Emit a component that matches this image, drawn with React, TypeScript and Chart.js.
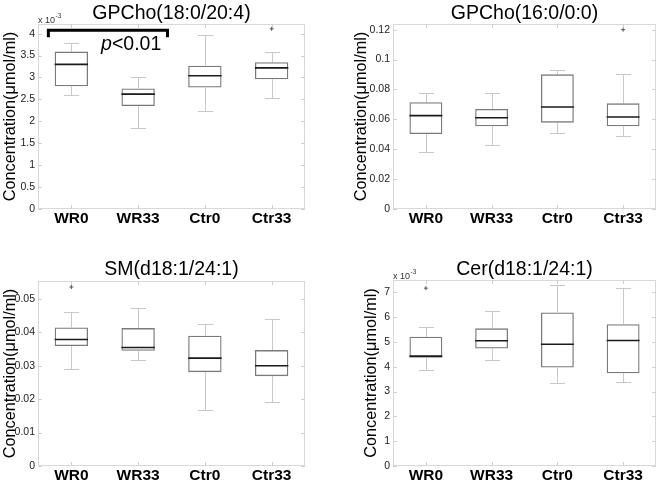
import React, { useEffect, useRef } from "react";
import { Chart, registerables } from "chart.js";
Chart.register(...registerables);

const FONT = "'Liberation Sans', Arial, Helvetica, sans-serif";

const categories = ["WR0", "WR33", "Ctr0", "Ctr33"];

// Panel 1: GPCho(18:0/20:4)  (values in x10^-3 µmol/ml)
const p1Title = "GPCho(18:0/20:4)";
const p1Min = [2.59, 1.84, 2.23, 2.53];
const p1Q1 = [2.8, 2.35, 2.77, 2.96];
const p1Med = [3.3, 2.62, 3.04, 3.22];
const p1Q3 = [3.59, 2.75, 3.27, 3.35];
const p1Max = [3.78, 3.0, 3.98, 3.59];
const p1Out = [null, null, null, 4.11];
const p1Ticks = { max: 4.22, step: 0.5, last: 4 };

// Panel 2: GPCho(16:0/0:0)  (µmol/ml)
const p2Title = "GPCho(16:0/0:0)";
const p2Min = [0.0381, 0.0428, 0.0509, 0.0491];
const p2Q1 = [0.0502, 0.0553, 0.0578, 0.0553];
const p2Med = [0.0625, 0.0611, 0.0683, 0.0616];
const p2Q3 = [0.0714, 0.0669, 0.0901, 0.0707];
const p2Max = [0.0776, 0.0774, 0.0928, 0.0901];
const p2Out = [null, null, null, 0.12];
const p2Ticks = { max: 0.1238, step: 0.02, last: 0.12 };

// Panel 3: SM(d18:1/24:1)  (µmol/ml)
const p3Title = "SM(d18:1/24:1)";
const p3Min = [0.029, 0.0317, 0.0169, 0.0191];
const p3Q1 = [0.0359, 0.0345, 0.0281, 0.0269];
const p3Med = [0.0379, 0.0355, 0.0323, 0.03];
const p3Q3 = [0.0415, 0.0413, 0.039, 0.0347];
const p3Max = [0.0462, 0.0473, 0.0425, 0.044];
const p3Out = [0.0536, null, null, null];
const p3Ticks = { max: 0.0554, step: 0.01, last: 0.05 };

// Panel 4: Cer(d18:1/24:1)  (values in x10^-3 µmol/ml)
const p4Title = "Cer(d18:1/24:1)";
const p4Min = [3.86, 4.27, 3.34, 3.38];
const p4Q1 = [4.36, 4.74, 3.97, 3.74];
const p4Med = [4.43, 5.05, 4.91, 5.06];
const p4Q3 = [5.21, 5.55, 6.19, 5.72];
const p4Max = [5.59, 6.23, 7.29, 7.17];
const p4Out = [7.17, null, null, null];
const p4Ticks = { max: 7.5, step: 1, last: 7 };

// significance annotation (panel 1)
const sigText = ["p", "<0.01"];
const sigBracketTop = 4.08;
const sigBracketLeg = 3.92;
const sigTextBase = 3.63;

const yTitle = "Concentration(\u03bcmol/ml)";

type Panel = {
  title: string;
  min: number[]; q1: number[]; med: number[]; q3: number[]; max: number[];
  out: (number | null)[];
  ticks: { max: number; step: number; last: number };
  exponent: boolean;
  sig: boolean;
  box: { left: number; top: number; w: number; h: number };
  yWidth: number; padRight: number; padTop: number; xHeight: number;
  yTitlePad: number; titleBase: number;
};

const panels: Panel[] = [
  { title: p1Title, min: p1Min, q1: p1Q1, med: p1Med, q3: p1Q3, max: p1Max, out: p1Out, ticks: p1Ticks,
    exponent: true, sig: true, box: { left: 0, top: 0, w: 330, h: 242 },
    yWidth: 38, padRight: 25, padTop: 24, xHeight: 33, yTitlePad: 0.3, titleBase: 18.7 },
  { title: p2Title, min: p2Min, q1: p2Q1, med: p2Med, q3: p2Q3, max: p2Max, out: p2Out, ticks: p2Ticks,
    exponent: false, sig: false, box: { left: 330, top: 0, w: 331, h: 242 },
    yWidth: 63, padRight: 1, padTop: 24, xHeight: 33, yTitlePad: 21.5, titleBase: 18.9 },
  { title: p3Title, min: p3Min, q1: p3Q1, med: p3Med, q3: p3Q3, max: p3Max, out: p3Out, ticks: p3Ticks,
    exponent: false, sig: false, box: { left: 0, top: 242, w: 330, h: 242 },
    yWidth: 38, padRight: 25, padTop: 39, xHeight: 18, yTitlePad: 0.3, titleBase: 33 },
  { title: p4Title, min: p4Min, q1: p4Q1, med: p4Med, q3: p4Q3, max: p4Max, out: p4Out, ticks: p4Ticks,
    exponent: true, sig: false, box: { left: 330, top: 242, w: 331, h: 242 },
    yWidth: 63, padRight: 1, padTop: 38, xHeight: 18, yTitlePad: 31.9, titleBase: 33 },
];

function fmt(v: number) {
  return String(Number(v.toFixed(4)));
}

function makePlugin(p: Panel) {
  return {
    id: "boxExtras",
    beforeDatasetsDraw(chart: any) {
      const ctx = chart.ctx;
      const ca = chart.chartArea;
      const xs = chart.scales.x;
      const ys = chart.scales.y;
      ctx.save();
      // frame
      ctx.strokeStyle = "#d9d9d9";
      ctx.lineWidth = 1;
      ctx.strokeRect(Math.round(ca.left) + 0.5, Math.round(ca.top) + 0.5,
        Math.round(ca.right - ca.left) - 1, Math.round(ca.bottom - ca.top) - 1);
      // inward ticks
      ctx.strokeStyle = "#cfcfcf";
      ctx.beginPath();
      ys.ticks.forEach((t: any) => {
        const y = Math.round(ys.getPixelForValue(t.value)) + 0.5;
        ctx.moveTo(ca.left, y); ctx.lineTo(ca.left + 4, y);
        ctx.moveTo(ca.right - 4, y); ctx.lineTo(ca.right, y);
      });
      categories.forEach((_, i) => {
        const x = Math.round(xs.getPixelForValue(i)) + 0.5;
        ctx.moveTo(x, ca.bottom); ctx.lineTo(x, ca.bottom - 4);
        ctx.moveTo(x, ca.top); ctx.lineTo(x, ca.top + 4);
      });
      ctx.stroke();
      // whiskers
      const meta = chart.getDatasetMeta(0);
      ctx.strokeStyle = "#c8c8c8";
      ctx.lineWidth = 1;
      ctx.beginPath();
      categories.forEach((_, i) => {
        const el = meta.data[i];
        const x = Math.round(el.x) + 0.5;
        const cap = el.width * 0.23;
        const yMin = Math.round(ys.getPixelForValue(p.min[i])) + 0.5;
        const yQ1 = ys.getPixelForValue(p.q1[i]);
        const yQ3 = ys.getPixelForValue(p.q3[i]);
        const yMax = Math.round(ys.getPixelForValue(p.max[i])) + 0.5;
        ctx.moveTo(x, yQ3); ctx.lineTo(x, yMax);
        ctx.moveTo(x, yQ1); ctx.lineTo(x, yMin);
        ctx.moveTo(x - cap, yMax); ctx.lineTo(x + cap, yMax);
        ctx.moveTo(x - cap, yMin); ctx.lineTo(x + cap, yMin);
      });
      ctx.stroke();
      ctx.restore();
    },
    afterDatasetsDraw(chart: any) {
      const ctx = chart.ctx;
      const ca = chart.chartArea;
      const xs = chart.scales.x;
      const ys = chart.scales.y;
      const meta = chart.getDatasetMeta(0);
      ctx.save();
      // medians
      ctx.strokeStyle = "#1a1a1a";
      ctx.lineWidth = 1.6;
      ctx.beginPath();
      categories.forEach((_, i) => {
        const el = meta.data[i];
        const y = ys.getPixelForValue(p.med[i]);
        ctx.moveTo(el.x - el.width / 2, y); ctx.lineTo(el.x + el.width / 2, y);
      });
      ctx.stroke();
      // title
      ctx.fillStyle = "#000";
      ctx.font = `19.5px ${FONT}`;
      ctx.textAlign = "center";
      ctx.textBaseline = "alphabetic";
      ctx.fillText(p.title, (ca.left + ca.right) / 2, p.titleBase);
      // exponent label
      if (p.exponent) {
        ctx.fillStyle = "#333";
        ctx.textAlign = "left";
        ctx.font = `9px ${FONT}`;
        const base = ca.top - 1;
        ctx.fillText("x 10", ca.left, base);
        const w = ctx.measureText("x 10").width;
        ctx.font = `6.5px ${FONT}`;
        ctx.fillText("-3", ca.left + w + 0.5, base - 5);
      }
      // significance bracket
      if (p.sig) {
        const cw = xs.getPixelForValue(1) - xs.getPixelForValue(0);
        const x1 = xs.getPixelForValue(0) - 0.345 * cw;
        const x2 = xs.getPixelForValue(1) + 0.44 * cw;
        const yt = ys.getPixelForValue(sigBracketTop);
        const yl = ys.getPixelForValue(sigBracketLeg);
        ctx.strokeStyle = "#000";
        ctx.lineWidth = 3;
        ctx.lineJoin = "miter";
        ctx.beginPath();
        ctx.moveTo(x1, yl); ctx.lineTo(x1, yt); ctx.lineTo(x2, yt); ctx.lineTo(x2, yl);
        ctx.stroke();
        ctx.fillStyle = "#000";
        ctx.textAlign = "left";
        const tx = xs.getPixelForValue(0) + 0.445 * cw;
        const ty = ys.getPixelForValue(sigTextBase);
        ctx.font = `italic 19.5px ${FONT}`;
        ctx.fillText(sigText[0], tx, ty);
        const pw = ctx.measureText(sigText[0]).width;
        ctx.font = `19.5px ${FONT}`;
        ctx.fillText(sigText[1], tx + pw, ty);
      }
      ctx.restore();
    },
  };
}

function buildChart(canvas: HTMLCanvasElement, p: Panel) {
  const step = p.ticks.step;
  const n = Math.round(p.ticks.last / step);
  return new Chart(canvas, {
    type: "bar",
    data: {
      labels: categories,
      datasets: [
        {
          type: "bar",
          data: categories.map((_, i) => [p.q1[i], p.q3[i]]) as any,
          backgroundColor: "rgba(255,255,255,0)",
          borderColor: "#7a7a7a",
          borderWidth: 1.3,
          borderSkipped: false,
          categoryPercentage: 1,
          barPercentage: 0.5,
          order: 2,
        } as any,
        {
          type: "line",
          data: p.out as any,
          showLine: false,
          pointStyle: "cross",
          pointRadius: 2,
          pointBorderColor: "#555",
          pointBorderWidth: 1,
          borderColor: "#555",
          order: 1,
        } as any,
      ],
    },
    options: {
      responsive: false,
      animation: false,
      events: [],
      devicePixelRatio: 1,
      layout: { padding: { left: 0, right: p.padRight, top: p.padTop, bottom: 0 } },
      plugins: { legend: { display: false }, tooltip: { enabled: false }, title: { display: false } },
      scales: {
        x: {
          type: "category",
          offset: true,
          grid: { display: false, drawTicks: false },
          border: { display: false },
          ticks: {
            color: "#000",
            font: { family: FONT, size: 15.5, weight: "bold" },
            padding: 0,
            maxRotation: 0,
            autoSkip: false,
          },
          afterFit: (s: any) => { s.height = p.xHeight; },
        },
        y: {
          type: "linear",
          min: 0,
          max: p.ticks.max,
          grid: { display: false, drawTicks: false },
          border: { display: false },
          ticks: {
            stepSize: step,
            color: "#222",
            font: { family: FONT, size: 10.5 },
            padding: 3,
            callback: (v: any) => fmt(Number(v)),
          },
          afterBuildTicks: (axis: any) => {
            const t = [];
            for (let k = 0; k <= n; k++) t.push({ value: Number((k * step).toFixed(6)) });
            axis.ticks = t;
          },
          title: {
            display: true,
            text: yTitle,
            color: "#000",
            font: { family: FONT, size: 16.3 },
            padding: { top: p.yTitlePad, bottom: 0 },
          },
          afterFit: (s: any) => { s.width = p.yWidth; },
        },
      },
    } as any,
    plugins: [makePlugin(p)],
  });
}

export default function App() {
  const refs = useRef<(HTMLCanvasElement | null)[]>([]);
  useEffect(() => {
    const charts = panels.map((p, i) => buildChart(refs.current[i] as HTMLCanvasElement, p));
    return () => charts.forEach((c) => c.destroy());
  }, []);
  return (
    <div style={{ position: "absolute", left: 0, top: 0, width: 661, height: 484, background: "#fff", overflow: "hidden" }}>
      {panels.map((p, i) => (
        <canvas
          key={i}
          ref={(el) => { refs.current[i] = el; }}
          width={p.box.w}
          height={p.box.h}
          style={{ position: "absolute", left: p.box.left, top: p.box.top, width: p.box.w, height: p.box.h }}
        />
      ))}
    </div>
  );
}
